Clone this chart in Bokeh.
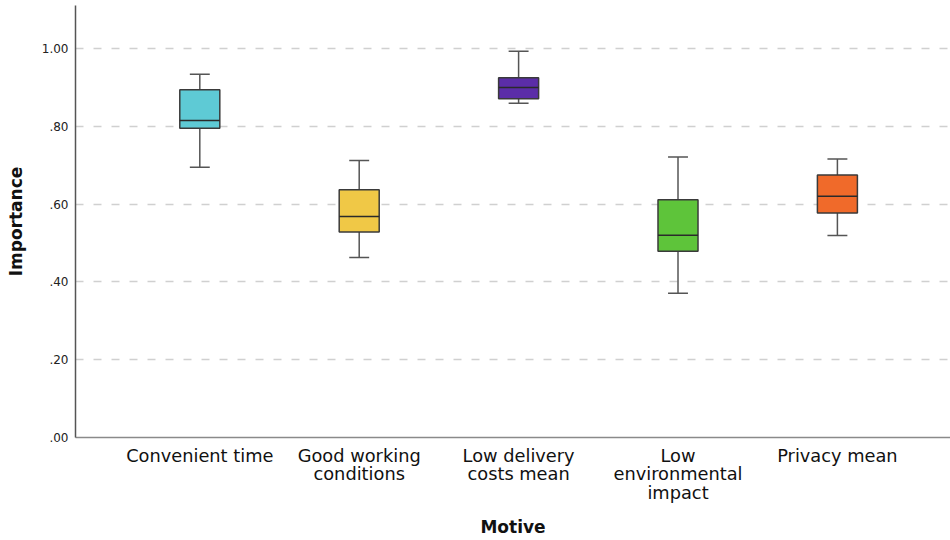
from bokeh.plotting import figure
from bokeh.models import FixedTicker, CustomJSTickFormatter, Range1d, ColumnDataSource
from bokeh.embed import file_html
from bokeh.resources import INLINE

categories = ["Convenient time", "Good working\nconditions", "Low delivery\ncosts mean",
              "Low\nenvironmental\nimpact", "Privacy mean"]
whisker_low = [0.695, 0.463, 0.859, 0.371, 0.519]
q1 = [0.795, 0.528, 0.871, 0.479, 0.577]
median = [0.815, 0.568, 0.900, 0.520, 0.620]
q3 = [0.894, 0.637, 0.925, 0.611, 0.675]
whisker_high = [0.934, 0.712, 0.993, 0.721, 0.716]
colors = ["#5ECAD5", "#F0C846", "#5B2DA8", "#5EC43A", "#F06A2A"]
y_ticks = [0.0, 0.2, 0.4, 0.6, 0.8, 1.0]

xs = list(range(1, len(categories) + 1))
box_w = 0.251
cap_w = 0.125

src = ColumnDataSource(dict(
    x=xs, lo=whisker_low, q1=q1, med=median, q3=q3, hi=whisker_high, color=colors,
    bl=[x - box_w / 2 for x in xs], br=[x + box_w / 2 for x in xs],
    cl=[x - cap_w / 2 for x in xs], cr=[x + cap_w / 2 for x in xs],
))

p = figure(width=950, height=540, output_backend="svg", toolbar_location=None,
           x_range=Range1d(0.2202, 5.7095), y_range=Range1d(0, 1.1105),
           min_border_left=75, min_border_bottom=103, min_border_top=5, min_border_right=0)
p.outline_line_color = None
p.background_fill_color = "white"

# whiskers
p.segment(x0="x", y0="q3", x1="x", y1="hi", source=src, line_color="#555555", line_width=1.5)
p.segment(x0="x", y0="q1", x1="x", y1="lo", source=src, line_color="#555555", line_width=1.5)
# boxes
p.vbar(x="x", width=box_w, bottom="q1", top="q3", source=src, fill_color="color",
       line_color="#3a3a3a", line_width=1.5)
# medians
p.segment(x0="bl", y0="med", x1="br", y1="med", source=src, line_color="#2a2a2a", line_width=1.5)
# caps
p.segment(x0="cl", y0="hi", x1="cr", y1="hi", source=src, line_color="#555555", line_width=1.5)
p.segment(x0="cl", y0="lo", x1="cr", y1="lo", source=src, line_color="#555555", line_width=1.5)

# axes
p.xaxis.ticker = FixedTicker(ticks=xs)
p.xaxis.major_label_overrides = {x: c for x, c in zip(xs, categories)}
p.xaxis.major_label_text_font = "DejaVu Sans"
p.xaxis.major_label_text_font_size = "17.8px"
p.xaxis.major_label_text_line_height = 0.9
p.xaxis.major_label_text_color = "#111111"
p.xaxis.major_label_standoff = 7
p.xaxis.axis_label = "Motive"
p.xaxis.axis_label_text_font = "DejaVu Sans"
p.xaxis.axis_label_text_font_style = "bold"
p.xaxis.axis_label_text_font_size = "17px"
p.xaxis.axis_label_text_color = "#111111"
p.xaxis.axis_label_standoff = 11
p.xaxis.axis_line_color = "#8a8a8a"
p.xaxis.axis_line_width = 1.5

p.yaxis.ticker = FixedTicker(ticks=y_ticks)
p.yaxis.formatter = CustomJSTickFormatter(code="return tick.toFixed(2).replace(/^0/, '');")
p.yaxis.major_label_text_font = "DejaVu Sans"
p.yaxis.major_label_text_font_size = "12px"
p.yaxis.major_label_text_color = "#222222"
p.yaxis.major_label_standoff = 7
p.yaxis.axis_label = "Importance"
p.yaxis.axis_label_text_font = "DejaVu Sans"
p.yaxis.axis_label_text_font_style = "bold"
p.yaxis.axis_label_text_font_size = "17px"
p.yaxis.axis_label_text_color = "#111111"
p.yaxis.axis_label_standoff = 13
p.yaxis.axis_line_color = "#555555"
p.yaxis.axis_line_width = 1.5

for ax in (p.xaxis, p.yaxis):
    ax.major_tick_line_color = None
    ax.minor_tick_line_color = None
    ax.major_tick_out = 0
    ax.major_tick_in = 0
    ax.minor_tick_out = 0
    ax.minor_tick_in = 0

p.xgrid.grid_line_color = None
p.ygrid.grid_line_color = "#d0d0d0"
p.ygrid.grid_line_dash = "8 10"
p.ygrid.grid_line_width = 1.3

open("out.html", "w").write(file_html(p, INLINE))
